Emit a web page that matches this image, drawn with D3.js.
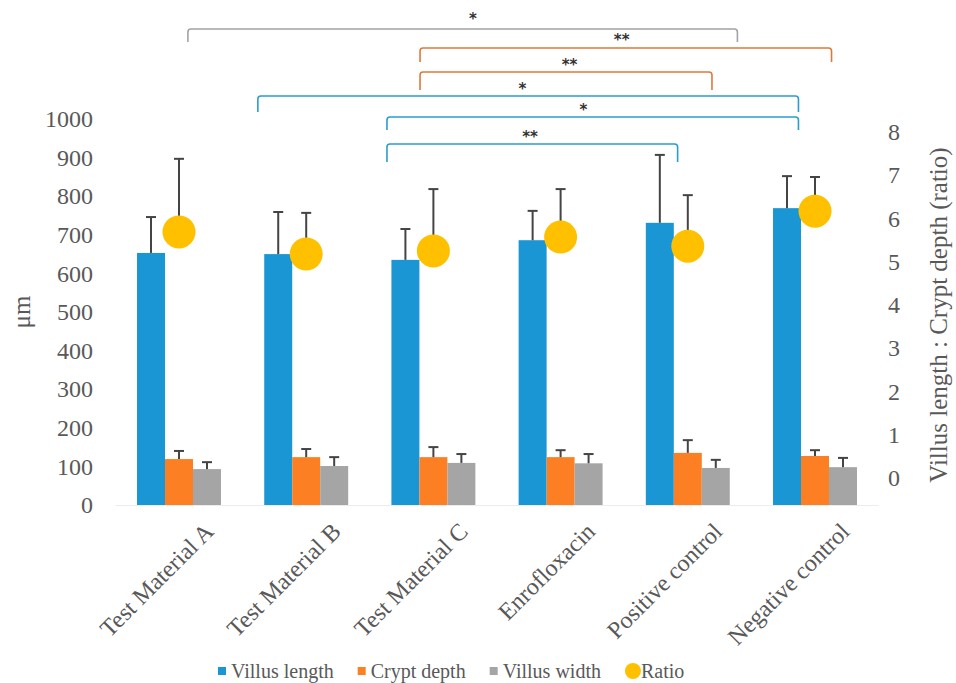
<!DOCTYPE html>
<html>
<head>
<meta charset="utf-8">
<script src="https://cdn.jsdelivr.net/npm/d3@7"></script>
<style>
  body { margin: 0; background: #fff; }
</style>
</head>
<body>
<div id="chart"></div>
<script>
// groups on the x axis
const groups = ["Test Material A", "Test Material B", "Test Material C", "Enrofloxacin", "Positive control", "Negative control"];
const seriesNames = ["Villus length", "Crypt depth", "Villus width"];
const colors = ["#1a96d5", "#fd7f24", "#a5a5a5"];
const ratioColor = "#ffc000";

// values (µm)
const villusLength = [653, 650, 635, 686, 731, 769];
const villusLengthSD = [93, 109, 80, 76, 176, 83];
const cryptDepth = [119, 124, 124, 124, 135, 127];
const cryptDepthSD = [21, 21, 26, 18, 33, 15];
const villusWidth = [93, 101, 109, 108, 96, 98];
const villusWidthSD = [18, 23, 23, 24, 21, 24];
// villus length : crypt depth
const ratio = [5.69, 5.18, 5.25, 5.57, 5.36, 6.17];
const ratioSD = [1.69, 0.95, 1.43, 1.11, 1.18, 0.79];

const leftTicks = [0, 100, 200, 300, 400, 500, 600, 700, 800, 900, 1000];
const rightTicks = [0, 1, 2, 3, 4, 5, 6, 7, 8];

// significance brackets: compared groups, label, series colour
const comparisons = [
  {a: 0, b: 4, label: "*",  series: 2},
  {a: 2, b: 5, label: "**", series: 1},
  {a: 2, b: 4, label: "**", series: 1},
  {a: 1, b: 5, label: "*",  series: 0},
  {a: 2, b: 5, label: "*",  series: 0},
  {a: 2, b: 4, label: "**", series: 0}
];
// hand placement of the brackets (offsets in group units, y in px)
const bracketLayout = [
  {da: 0.07, db: 0.39, y: 29, drop: 13, lx: 2.31, ly: 17},
  {da: -0.105, db: 0.13, y: 48, drop: 14, lx: 3.48, ly: 38},
  {da: -0.105, db: 0.19, y: 72, drop: 18, lx: 3.07, ly: 63},
  {da: -0.38, db: -0.13, y: 96, drop: 16, lx: 2.70, ly: 87},
  {da: -0.365, db: -0.13, y: 117, drop: 13, lx: 3.18, ly: 108},
  {da: -0.365, db: -0.08, y: 144, drop: 18, lx: 2.76, ly: 135}
];
const bracketColors = ["#2a9dd0", "#dd7a3a", "#a3a3a3"];

const FONT = "'Liberation Serif', 'Times New Roman', serif";
const W = 956, H = 683;
const svg = d3.select("#chart").append("svg")
  .attr("width", W).attr("height", H)
  .attr("font-family", FONT);

const x = d3.scaleBand().domain(groups).range([115.4, 878.6]).paddingInner(0.34).paddingOuter(0.17);
const xSub = d3.scaleBand().domain(seriesNames).range([0, x.bandwidth()]);
const xIdx = d3.scaleLinear().domain([0, 1]).range([x(groups[0]) + x.bandwidth() / 2, x(groups[1]) + x.bandwidth() / 2]);
const y = d3.scaleLinear().domain([0, 1000]).range([505, 119]);
const yR = d3.scaleLinear().domain([0, 8]).range([478, 132]);

// faint baseline
svg.append("line")
  .attr("x1", x.range()[0]).attr("x2", x.range()[1])
  .attr("y1", y(0) + 0.5).attr("y2", y(0) + 0.5)
  .attr("stroke", "#ececec").attr("stroke-width", 1);

// left axis
const yAxis = svg.append("g")
  .attr("transform", "translate(93,0)")
  .call(d3.axisLeft(y).tickValues(leftTicks).tickFormat(d3.format("d")).tickSize(0).tickPadding(0));
yAxis.attr("font-family", FONT).attr("font-size", 24);
yAxis.select(".domain").remove();
yAxis.selectAll("text").attr("fill", "#595959");

svg.append("text")
  .attr("transform", `translate(30, ${(y(0) + y(1000)) / 2}) rotate(-90)`)
  .attr("text-anchor", "middle")
  .attr("font-size", 25)
  .attr("fill", "#595959")
  .text("μm");

// right axis
const rAxis = svg.append("g")
  .attr("transform", "translate(888,0)")
  .call(d3.axisRight(yR).tickValues(rightTicks).tickSize(0).tickPadding(0));
rAxis.attr("font-family", FONT).attr("font-size", 24);
rAxis.select(".domain").remove();
rAxis.selectAll("text").attr("fill", "#595959");

svg.append("text")
  .attr("transform", `translate(947, 315) rotate(-90)`)
  .attr("text-anchor", "middle")
  .attr("font-size", 25)
  .attr("fill", "#595959")
  .text("Villus length : Crypt depth (ratio)");

// bars
const barData = [villusLength, cryptDepth, villusWidth];
const sdData = [villusLengthSD, cryptDepthSD, villusWidthSD];
const rows = [];
groups.forEach((g, i) => {
  seriesNames.forEach((s, j) => {
    rows.push({g, s, j, v: barData[j][i], sd: sdData[j][i]});
  });
});

svg.append("g").selectAll("rect")
  .data(rows)
  .enter()
  .append("rect")
  .attr("x", d => x(d.g) + xSub(d.s))
  .attr("y", d => y(d.v))
  .attr("width", xSub.bandwidth())
  .attr("height", d => y(0) - y(d.v))
  .attr("fill", d => colors[d.j]);

// error bars (upper only)
function errBar(sel, cx, y0, y1) {
  sel.append("line").attr("x1", cx).attr("x2", cx).attr("y1", y0).attr("y2", y1)
    .attr("stroke", "#444").attr("stroke-width", 2);
  sel.append("line").attr("x1", cx - 5).attr("x2", cx + 5).attr("y1", y1).attr("y2", y1)
    .attr("stroke", "#444").attr("stroke-width", 2);
}
const gErr = svg.append("g");
rows.forEach(d => {
  const cx = x(d.g) + xSub(d.s) + xSub.bandwidth() / 2;
  errBar(gErr, cx, y(d.v), y(d.v + d.sd));
});

// ratio points
groups.forEach((g, i) => {
  const cx = x(g) + x.bandwidth() / 2;
  errBar(gErr, cx, yR(ratio[i]), yR(ratio[i] + ratioSD[i]));
});
svg.append("g").selectAll("circle")
  .data(ratio)
  .enter()
  .append("circle")
  .attr("cx", (d, i) => x(groups[i]) + x.bandwidth() / 2)
  .attr("cy", d => yR(d))
  .attr("r", 16.5)
  .attr("fill", ratioColor);

// significance brackets
const gBr = svg.append("g");
comparisons.forEach((c, k) => {
  const L = bracketLayout[k];
  const xa = xIdx(c.a + L.da), xb = xIdx(c.b + L.db);
  const r = 3;
  gBr.append("path")
    .attr("d", `M${xa},${L.y + L.drop} L${xa},${L.y + r} Q${xa},${L.y} ${xa + r},${L.y} L${xb - r},${L.y} Q${xb},${L.y} ${xb},${L.y + r} L${xb},${L.y + L.drop}`)
    .attr("fill", "none")
    .attr("stroke", bracketColors[c.series])
    .attr("stroke-width", 1.6);
  gBr.append("text")
    .attr("x", xIdx(L.lx))
    .attr("y", L.ly + 7)
    .attr("text-anchor", "middle")
    .attr("font-size", 15)
    .attr("font-family", "DejaVu Sans")
    .attr("font-weight", "bold")
    .attr("fill", "#333")
    .text(c.label);
});

// category labels
svg.append("g").selectAll("text")
  .data(groups)
  .enter()
  .append("text")
  .attr("transform", d => `translate(${x(d) + x.bandwidth() / 2 + 36}, 533) rotate(-45)`)
  .attr("text-anchor", "end")
  .attr("font-size", 24)
  .attr("fill", "#595959")
  .text(d => d);

// legend
const legendItems = seriesNames.map((s, j) => ({name: s, color: colors[j], shape: "rect"}))
  .concat([{name: "Ratio", color: ratioColor, shape: "circle"}]);
const legend = svg.append("g").attr("transform", "translate(218, 672)");
let lx = 0;
legendItems.forEach(it => {
  const g = legend.append("g").attr("transform", `translate(${lx},0)`);
  let tx;
  if (it.shape === "rect") {
    g.append("rect").attr("x", 0).attr("y", -5).attr("width", 8).attr("height", 8).attr("fill", it.color);
    tx = 13;
  } else {
    g.append("circle").attr("cx", 8).attr("cy", -1).attr("r", 8).attr("fill", it.color);
    tx = 16;
  }
  const t = g.append("text").attr("x", tx).attr("y", 6)
    .attr("font-family", FONT)
    .attr("font-size", 20).attr("fill", "#595959").text(it.name);
  lx += tx + t.node().getComputedTextLength() + 24;
});
</script>
</body>
</html>
